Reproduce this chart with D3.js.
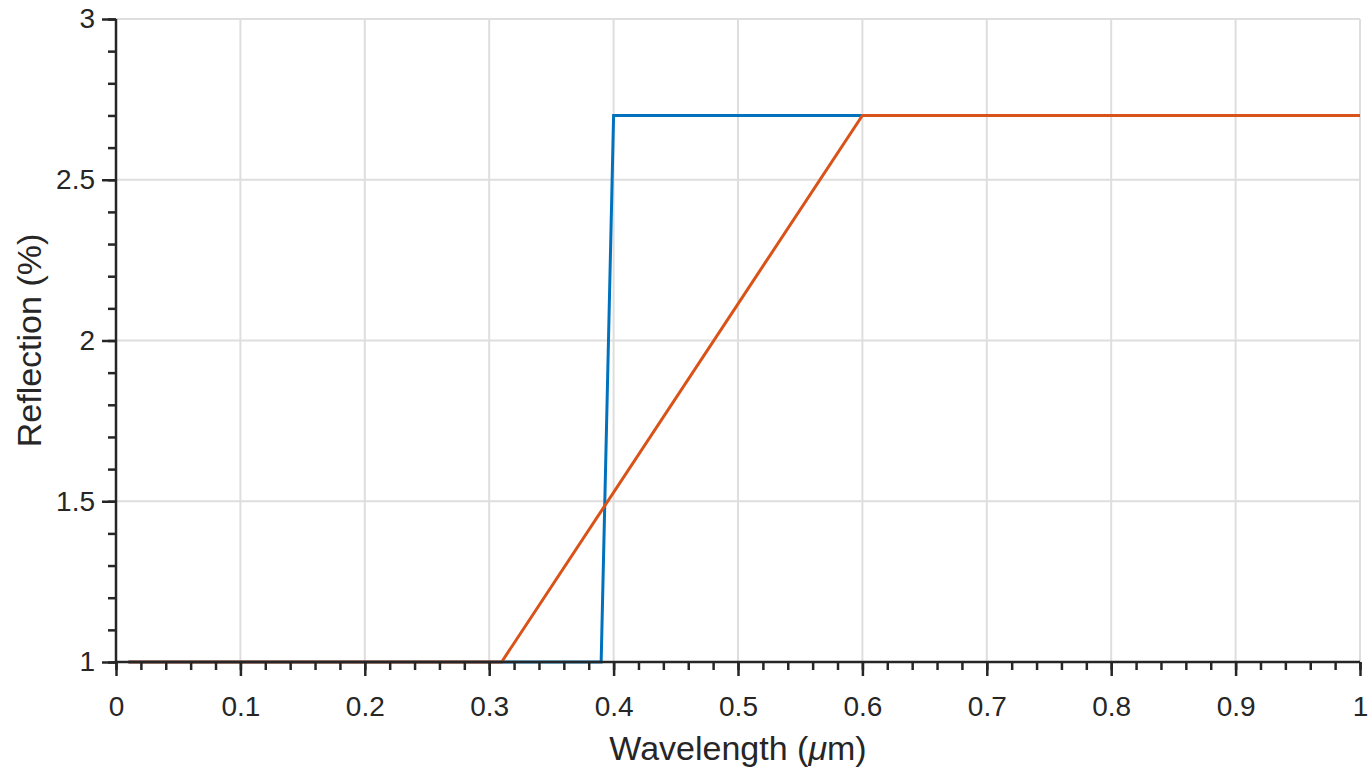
<!DOCTYPE html>
<html><head><meta charset="utf-8">
<script src="https://cdn.jsdelivr.net/npm/d3@7"></script>
<style>body{margin:0;background:#fff;} svg{display:block;font-family:"Liberation Sans",Arial,sans-serif;}</style>
</head><body><svg id="c" width="1369" height="771"></svg>
<script>
const xTicks = [0,0.1,0.2,0.3,0.4,0.5,0.6,0.7,0.8,0.9,1];
const yTicks = [1,1.5,2,2.5,3];
const blueX = [0.01,0.39,0.40,0.60,1.00];
const blueY = [1.0,1.0,2.7,2.7,2.7];
const orangeX = [0.01,0.31,0.60,1.00];
const orangeY = [1.0,1.0,2.7,2.7];

const svg = d3.select("#c");
const L=116, R=1360, T=19, B=662;
const x = d3.scaleLinear().domain([0,1]).range([L,R]);
const y = d3.scaleLinear().domain([1,3]).range([B,T]);
const g = svg.append("g");
g.selectAll(".gx").data(xTicks.slice(1)).join("line")
 .attr("x1",d=>x(d)).attr("x2",d=>x(d)).attr("y1",T).attr("y2",B)
 .attr("stroke","#dedede").attr("stroke-width",2);
g.selectAll(".gy").data(yTicks.slice(1)).join("line")
 .attr("x1",L).attr("x2",R).attr("y1",d=>y(d)).attr("y2",d=>y(d))
 .attr("stroke","#dedede").attr("stroke-width",2);

const line = d3.line().x(d=>x(d[0])).y(d=>y(d[1]));
svg.append("path").datum(blueX.map((v,i)=>[v,blueY[i]])).attr("d",line)
 .attr("fill","none").attr("stroke","#0072BD").attr("stroke-width",3);
svg.append("path").datum(orangeX.map((v,i)=>[v,orangeY[i]])).attr("d",line)
 .attr("fill","none").attr("stroke","#D95319").attr("stroke-width",3);

const ax = "#262626";
const xMinor = d3.range(0,1.0001,0.02);
const yMinor = d3.range(1,3.0001,0.1);
const xa = svg.append("g").attr("transform",`translate(0,${B})`);
xa.call(d3.axisBottom(x).tickValues(xMinor).tickSize(8).tickFormat(""));
xa.append("g").call(d3.axisBottom(x).tickValues(xTicks).tickSize(14).tickPadding(20).tickFormat(d3.format("")));
const ya = svg.append("g").attr("transform",`translate(${L},0)`);
ya.call(d3.axisLeft(y).tickValues(yMinor).tickSize(8).tickFormat(""));
ya.append("g").call(d3.axisLeft(y).tickValues(yTicks).tickSize(14).tickPadding(7).tickFormat(d3.format("")));
svg.selectAll(".tick line").attr("stroke",ax).attr("stroke-width",2.5);
svg.selectAll(".tick text").attr("fill",ax).style("font-size","28px").style("font-family","'Liberation Sans',Arial,sans-serif");
svg.selectAll(".domain").remove();
svg.append("line").attr("x1",L).attr("x2",R).attr("y1",B).attr("y2",B).attr("stroke",ax).attr("stroke-width",2.5);
svg.append("line").attr("x1",L).attr("x2",L).attr("y1",T).attr("y2",B).attr("stroke",ax).attr("stroke-width",2.5);

svg.append("text").attr("x",x(0.5)).attr("y",760).attr("text-anchor","middle")
 .style("font-size","34px").attr("fill",ax)
 .html('Wavelength (<tspan font-style="italic">μ</tspan>m)');
svg.append("text").attr("transform",`translate(41,${(T+B)/2}) rotate(-90)`).attr("text-anchor","middle")
 .style("font-size","34px").attr("fill",ax).text("Reflection (%)");
</script></body></html>
